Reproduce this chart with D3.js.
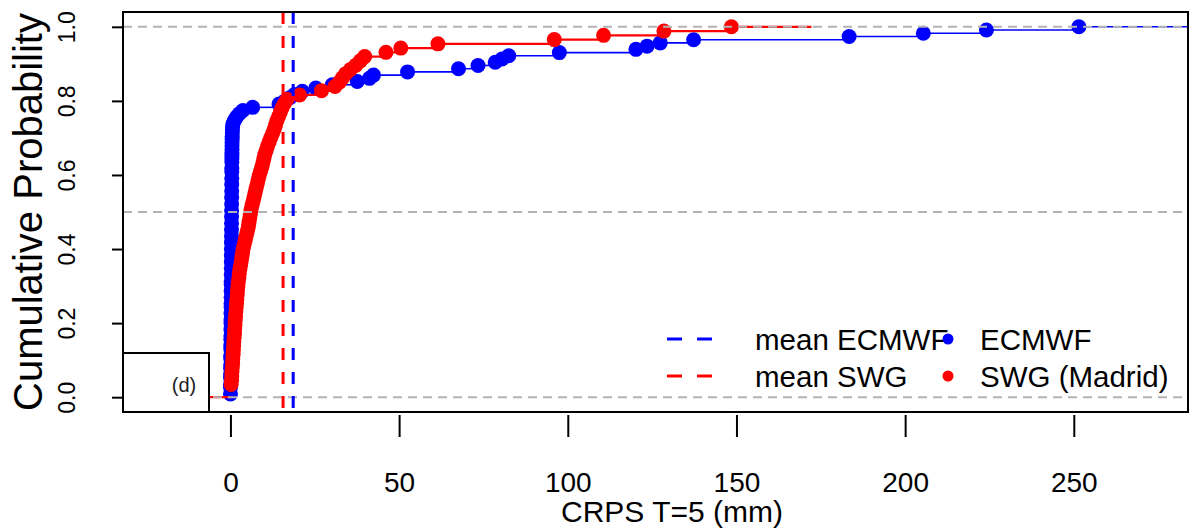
<!DOCTYPE html>
<html>
<head>
<meta charset="utf-8">
<script src="https://cdn.jsdelivr.net/npm/d3@7"></script>
<style>
    body{ margin: 0; background: #fff; }
    svg{ display: block; font-family: "Liberation Sans", Arial, sans-serif; }
</style>
</head>
<body>
<div id="chart"></div>
<script>
// CRPS values per forecast day, sorted
const ecmwfCrps = [
    0.01,0.02,0.02,0.03,0.04,0.04,0.05,0.06,0.06,0.07,
    0.08,0.08,0.09,0.10,0.10,0.11,0.12,0.12,0.13,0.14,
    0.14,0.15,0.15,0.16,0.17,0.17,0.18,0.18,0.19,0.20,
    0.20,0.21,0.21,0.22,0.22,0.23,0.24,0.24,0.25,0.25,
    0.26,0.26,0.27,0.27,0.28,0.28,0.29,0.29,0.30,0.30,
    0.31,0.31,0.32,0.32,0.33,0.33,0.34,0.34,0.35,0.35,
    0.36,0.36,0.37,0.37,0.38,0.38,0.39,0.39,0.40,0.40,
    0.41,0.42,0.42,0.43,0.44,0.45,0.46,0.47,0.48,0.50,
    0.52,0.55,0.58,0.62,
    0.8,1.2,1.8,2.6,3.7,6.6,14.4,16.2,17.6,19.0,21.3,25.3,30.2,37.6,41.2,42.4,
    52.5,67.6,73.4,78.5,80.5,82.5,97.5,120.2,123.5,127.4,137.3,183.4,205.4,224.1,251.5
];
const swgCrps = [
    0.2,0.2,0.2,
    0.35,0.4,0.45,0.55,0.65,0.7,0.8,0.85,0.95,1.0,1.1,1.2,1.25,1.35,1.4,1.5,
    1.6,1.7,1.8,1.9,2.0,2.1,2.2,2.3,2.5,2.6,2.8,3.0,3.2,3.4,3.6,3.8,4.1,4.4,
    4.7,5.0,5.3,5.5,5.7,5.9,6.1,6.4,6.7,7.0,7.3,7.6,7.9,8.2,8.5,8.9,9.3,9.6,
    9.9,10.2,10.6,11.0,11.5,12.0,12.5,13.0,13.4,13.8,14.3,14.8,15.3,16.0,16.8,
    20.5,27.0,31.0,32.3,33.2,34.2,35.6,37.2,38.5,39.8,46.1,50.5,61.5,96.0,110.6,128.5,148.5
];
const meanEcmwf = 18.6;
const meanSwg = 15.6;

const xTicks = [0, 50, 100, 150, 200, 250];
const yTicks = [0, 0.2, 0.4, 0.6, 0.8, 1.0];
const refLevels = [0, 0.5, 1];
const lineLabels = ["mean ECMWF", "mean SWG"];
const pointLabels = ["ECMWF", "SWG (Madrid)"];
const seriesColors = ["#0000ff", "#ff0000"];

class EcdfPlot{
    constructor(parent){
        this.parent = d3.select(parent);
        this.wSvg = 1193;
        this.hSvg = 528;
        this.box = {left: 123, right: 1188, top: 12, bottom: 412};
        this.init();
    }

    init(){
        this.svg = this.parent.append("svg")
            .attr("width", this.wSvg)
            .attr("height", this.hSvg)
            .attr("viewBox", `0 0 ${this.wSvg} ${this.hSvg}`);

        this.prepScales();
        this.render();
    }

    prepScales(){
        this.x = d3.scaleLinear().domain([-31.85, 283.85]).range([this.box.left, this.box.right]);
        this.y = d3.scaleLinear().domain([-0.04, 1.04]).range([this.box.bottom, this.box.top]);
    }

    // knots + cumulative fraction, like R's ecdf()
    ecdf(values){
        const sorted = values.slice().sort((a, b) => a - b);
        const n = sorted.length;
        const knots = [];
        sorted.forEach((v, i) => {
            if(knots.length && knots[knots.length - 1].x === v) knots[knots.length - 1].p = (i + 1) / n;
            else knots.push({x: v, p: (i + 1) / n});
        });
        return knots;
    }

    drawSeries(g, values, color, lw){
        const knots = this.ecdf(values);
        const range = knots[knots.length - 1].x - knots[0].x;
        const dr = 0.16 * range;
        const segs = [{x0: knots[0].x - dr, x1: knots[0].x, p: 0}];
        knots.forEach((k, i) => {
            const next = i < knots.length - 1 ? knots[i + 1].x : k.x + dr;
            segs.push({x0: k.x, x1: next, p: k.p});
        });

        g.append("g").selectAll("line")
            .data(segs)
            .enter()
            .append("line")
                .attr("x1", d => this.x(d.x0))
                .attr("x2", d => this.x(d.x1))
                .attr("y1", d => this.y(d.p))
                .attr("y2", d => this.y(d.p))
                .style("stroke", color)
                .style("stroke-width", lw);

        g.append("g").selectAll("circle")
            .data(knots)
            .enter()
            .append("circle")
                .attr("cx", d => this.x(d.x))
                .attr("cy", d => this.y(d.p))
                .attr("r", 7.5)
                .style("fill", color);
    }

    render(){
        const b = this.box;

        this.svg.append("clipPath").attr("id", "plot-clip")
            .append("rect")
                .attr("x", b.left).attr("y", b.top)
                .attr("width", b.right - b.left).attr("height", b.bottom - b.top);

        const plot = this.svg.append("g").attr("clip-path", "url(#plot-clip)");

        this.drawSeries(plot, ecmwfCrps, seriesColors[0], 1.6);
        this.drawSeries(plot, swgCrps, seriesColors[1], 2.2);

        plot.append("g").selectAll("line")
            .data(refLevels)
            .enter()
            .append("line")
                .attr("x1", b.left).attr("x2", b.right)
                .attr("y1", d => this.y(d)).attr("y2", d => this.y(d))
                .style("stroke", "#b3b3b3")
                .style("stroke-width", 2)
                .style("stroke-dasharray", "9,6");

        plot.append("g").selectAll("line")
            .data([meanEcmwf, meanSwg])
            .enter()
            .append("line")
                .attr("x1", d => this.x(d)).attr("x2", d => this.x(d))
                .attr("y1", b.top).attr("y2", b.bottom)
                .style("stroke", (d, i) => seriesColors[i])
                .style("stroke-width", 3)
                .style("stroke-dasharray", "12,12");

        // panel tag
        this.svg.append("rect")
            .attr("x", b.left).attr("y", 353)
            .attr("width", 86).attr("height", b.bottom - 353)
            .style("fill", "#fff").style("stroke", "#000").style("stroke-width", 2);
        this.svg.append("text")
            .attr("x", 184).attr("y", 392)
            .attr("text-anchor", "middle")
            .style("font-size", "20px").style("fill", "#222")
            .text("(d)");

        this.svg.append("rect")
            .attr("x", b.left).attr("y", b.top)
            .attr("width", b.right - b.left).attr("height", b.bottom - b.top)
            .style("fill", "none").style("stroke", "#000").style("stroke-width", 2);

        // axes
        const xAxis = this.svg.append("g")
            .attr("transform", `translate(0, ${b.bottom + 3})`)
            .call(d3.axisBottom(this.x).tickValues(xTicks).tickSize(22).tickSizeOuter(0));
        xAxis.select(".domain").remove();
        xAxis.selectAll("line").style("stroke", "#000").style("stroke-width", 2);
        xAxis.selectAll("text")
            .attr("y", 77).attr("dy", null)
            .style("font-size", "28px").style("fill", "#000");

        const yAxis = this.svg.append("g")
            .attr("transform", `translate(${b.left}, 0)`)
            .call(d3.axisLeft(this.y).tickValues(yTicks).tickSize(11).tickSizeOuter(0).tickFormat(d3.format(".1f")));
        yAxis.select(".domain").remove();
        yAxis.selectAll("line").style("stroke", "#000").style("stroke-width", 2);
        yAxis.selectAll("text")
            .attr("x", null).attr("dy", null)
            .attr("text-anchor", "middle")
            .attr("transform", "translate(-48, 0) rotate(-90)")
            .style("font-size", "23px").style("fill", "#000");

        this.svg.append("text")
            .attr("transform", `translate(42, ${(b.top + b.bottom) / 2}) rotate(-90)`)
            .attr("text-anchor", "middle")
            .style("font-size", "40px")
            .text("Cumulative Probability");

        this.svg.append("text")
            .attr("x", 672).attr("y", 522)
            .attr("text-anchor", "middle")
            .style("font-size", "30px")
            .text("CRPS T=5 (mm)");

        // legend
        const rows = [339, 376];
        const legend = this.svg.append("g");
        legend.selectAll(".leg-line")
            .data(lineLabels)
            .enter()
            .append("line")
                .attr("x1", 667).attr("x2", 713)
                .attr("y1", (d, i) => rows[i]).attr("y2", (d, i) => rows[i])
                .style("stroke", (d, i) => seriesColors[i])
                .style("stroke-width", 3)
                .style("stroke-dasharray", "15,15");
        legend.selectAll(".leg-line-text")
            .data(lineLabels)
            .enter()
            .append("text")
                .attr("x", 755).attr("y", (d, i) => rows[i] + 11)
                .style("font-size", "29.5px")
                .text(d => d);
        legend.selectAll("circle")
            .data(pointLabels)
            .enter()
            .append("circle")
                .attr("cx", 948).attr("cy", (d, i) => rows[i])
                .attr("r", 5.5)
                .style("fill", (d, i) => seriesColors[i]);
        legend.selectAll(".leg-pt-text")
            .data(pointLabels)
            .enter()
            .append("text")
                .attr("x", 980).attr("y", (d, i) => rows[i] + 11)
                .style("font-size", "29.5px")
                .text(d => d);
    }
}

new EcdfPlot(document.getElementById("chart"));
</script>
</body>
</html>
